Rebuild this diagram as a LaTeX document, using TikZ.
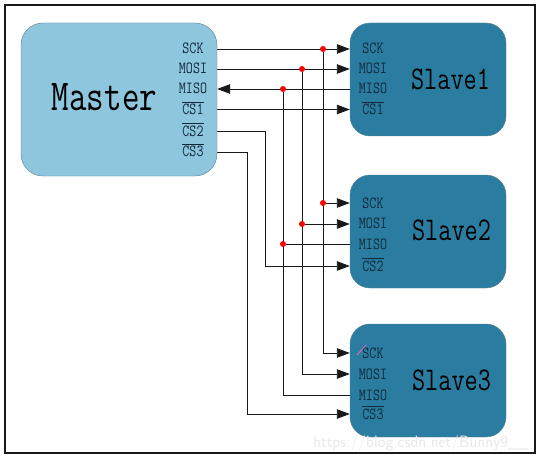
\documentclass[tikz,border=0pt]{standalone}
\usepackage{graphicx}
\usetikzlibrary{arrows.meta,backgrounds}
\definecolor{masterblue}{HTML}{8EC6DE}
\definecolor{slaveblue}{HTML}{2A7DA0}
\definecolor{edgeblue}{HTML}{5A7F92}
\definecolor{inkblue}{HTML}{0F2A3A}
\newcommand{\barcs}[1]{$\overline{\hbox{CS#1}}$}
\begin{document}
\begin{tikzpicture}[
    x=1pt, y=-1pt,
    % --- Styles ---
    master box/.style={draw=edgeblue, fill=masterblue, rounded corners=22pt, inner sep=0pt,
        minimum width=196pt, minimum height=153pt},
    slave box/.style={draw=edgeblue, fill=slaveblue, rounded corners=20pt, inner sep=0pt,
        minimum width=156pt, minimum height=113pt},
    pin label/.style={font=\ttfamily\fontsize{13.6}{14}\selectfont, text=inkblue, inner sep=0pt,
        text height=10pt, text depth=0pt, anchor=center},
    box title/.style={font=\ttfamily, text=black, inner sep=0pt, anchor=center},
    wire/.style={draw=black!90, line width=0.9pt},
    % Filled tip at the end that receives the signal
    drive wire/.style={wire, -{Triangle[length=13pt,width=9.5pt]}},
    tap dot/.style={circle, fill=red, inner sep=0pt, minimum size=6pt}
]

%================CONFIGURATION================
% Everything is placed in pixels of the reference
\def\titlesize{\fontsize{34}{36}\selectfont}
\def\slavesize{\fontsize{25.5}{28}\selectfont}
%=============================================

\useasboundingbox (0,0) rectangle (539,460);

% Outer frame
\draw[black!90, line width=2pt] (5,5) rectangle (535,453);

% --- 1. Boxes ---
\node[master box] (master) at (119,99.5) {};
\node[slave box] (slave1) at (428,79.5) {};
\node[slave box] (slave2) at (428,231.5) {};
\node[slave box] (slave3) at (428,380.5) {};

\node[box title] (masterName) at (104.5,97) {\scalebox{1}[1.3]{\titlesize Master}};
\node[box title] (slave1Name) at (450.5,79) {\scalebox{1}[1.3]{\slavesize Slave1}};
\node[box title] (slave2Name) at (451.5,230) {\scalebox{1}[1.3]{\slavesize Slave2}};
\node[box title] (slave3Name) at (451.5,380) {\scalebox{1}[1.3]{\slavesize Slave3}};

% --- 2. Pin labels ---
\foreach \sig/\txt/\y in {SCK/SCK/49, MOSI/MOSI/69, MISO/MISO/89,
    CSa/\barcs{1}/109.5, CSb/\barcs{2}/131, CSc/\barcs{3}/152} {
    \node[pin label] (m\sig) at (193,\y) {\scalebox{1}[1.25]{\txt}};
}
\foreach \n/\yA/\yB/\yC/\yD/\cs in {1/49/69/89/109.5/1, 2/203/224/244/266/2, 3/353/374/395/414/3} {
    \node[pin label] (s\n SCK) at (373,\yA) {\scalebox{1}[1.25]{SCK}};
    \node[pin label] (s\n MOSI) at (373,\yB) {\scalebox{1}[1.25]{MOSI}};
    \node[pin label] (s\n MISO) at (373,\yC) {\scalebox{1}[1.25]{MISO}};
    \node[pin label] (s\n CS) at (373,\yD) {\scalebox{1}[1.25]{\barcs{\cs}}};
}

% --- 3. Tap points on the shared lines ---
\foreach \sig/\xBus in {SCK/323, MOSI/302, MISO/283} {
    \node[tap dot] (dot1\sig) at (\xBus,0 |- m\sig) {};
    \node[tap dot] (dot2\sig) at (\xBus,0 |- s2\sig) {};
}

\begin{scope}[on background layer]
% --- 4. Shared lines ---
\foreach \sig in {SCK, MOSI} {
    \draw[drive wire] (master.east |- m\sig) -- (slave1.west |- s1\sig);
    \draw[drive wire] (dot2\sig) -- (slave2.west |- s2\sig);
    \draw[drive wire] (dot1\sig) |- (slave3.west |- s3\sig);
}
\draw[drive wire] (slave1.west |- s1MISO) -- (master.east |- mMISO);
\draw[wire] (dot2MISO) -- (slave2.west |- s2MISO);
\draw[wire] (dot1MISO) |- (slave3.west |- s3MISO);

% --- 5. Chip selects ---
\coordinate (busCSb) at (265,0);
\coordinate (busCSc) at (247,0);
\draw[drive wire] (master.east |- mCSa) -- (slave1.west |- s1CS);
\draw[drive wire] (master.east |- mCSb) -| (busCSb |- s2CS) -- (slave2.west |- s2CS);
\draw[drive wire] (master.east |- mCSc) -| (busCSc |- s3CS) -- (slave3.west |- s3CS);
\end{scope}

% Stray pen mark and the site's stamp
\draw[magenta!60!white, line width=0.8pt] (357,355) -- (366,345);
\node[font=\sffamily\fontsize{16.5}{18}\selectfont, text=white!82!gray, inner sep=0pt] (stamp) at (421,443) {https://blog.csdn.net/Bunny9\_\_};

\end{tikzpicture}
\end{document}
